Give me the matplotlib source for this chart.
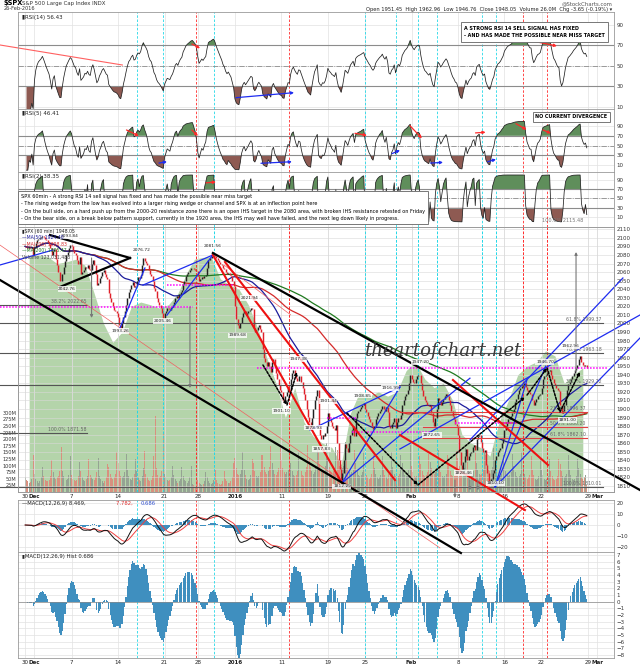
import numpy as np
import pandas as pd
import matplotlib
matplotlib.use("Agg")
import matplotlib.pyplot as plt

# hourly closes of $SPX, one row per trading day (30 Nov 2015 - 26 Feb 2016)
hourly_close = [
    [2090, 2089, 2088, 2089, 2088, 2089, 2080.4],   # Nov 30
    [2089, 2094, 2097, 2099, 2100, 2101, 2102.6],   # Dec 1
    [2101, 2099, 2097, 2095, 2093, 2088, 2079.5],
    [2085, 2087, 2075, 2068, 2060, 2050, 2049.6],
    [2058, 2066, 2073, 2080, 2084, 2088, 2091.7],
    [2090, 2086, 2082, 2080, 2074, 2070, 2077.1],   # Dec 7
    [2058, 2060, 2062, 2066, 2065, 2068, 2063.6],
    [2062, 2070, 2074, 2068, 2058, 2045, 2047.6],
    [2053, 2056, 2060, 2062, 2058, 2054, 2052.2],
    [2035, 2030, 2025, 2020, 2016, 2015, 2012.4],
    [2008, 1998, 1995, 2000, 2008, 2014, 2021.9],   # Dec 14
    [2030, 2037, 2040, 2045, 2048, 2042, 2043.4],
    [2050, 2054, 2053, 2057, 2068, 2076, 2073.1],
    [2071, 2068, 2062, 2058, 2056, 2050, 2041.9],
    [2038, 2030, 2025, 2022, 2018, 2012, 2005.6],
    [2012, 2015, 2018, 2017, 2016, 2019, 2021.2],   # Dec 21
    [2025, 2030, 2032, 2030, 2034, 2037, 2039.0],
    [2046, 2050, 2055, 2058, 2060, 2062, 2064.3],
    [2065, 2064, 2063, 2061.0],
    [2055, 2050, 2052, 2054, 2053, 2055, 2056.5],   # Dec 28
    [2065, 2074, 2076, 2077, 2079, 2080, 2078.4],
    [2076, 2074, 2072, 2070, 2068, 2065, 2063.4],
    [2060, 2058, 2059, 2057, 2055, 2050, 2043.9],
    [2020, 2005, 1998, 1995, 2000, 2008, 2012.7],   # Jan 4
    [2015, 2010, 2012, 2014, 2016, 2018, 2016.7],
    [1995, 1990, 1992, 1996, 1998, 1994, 1990.3],
    [1970, 1960, 1955, 1950, 1955, 1950, 1943.1],
    [1955, 1958, 1948, 1942, 1935, 1928, 1922.0],
    [1920, 1910, 1908, 1915, 1920, 1925, 1923.7],   # Jan 11
    [1935, 1942, 1945, 1940, 1936, 1933, 1938.7],
    [1938, 1932, 1925, 1918, 1910, 1900, 1890.3],
    [1885, 1880, 1890, 1900, 1910, 1915, 1921.8],
    [1880, 1870, 1865, 1870, 1868, 1872, 1880.3],
    [1895, 1888, 1885, 1880, 1878, 1875, 1881.3],   # Jan 19
    [1860, 1840, 1830, 1815, 1825, 1840, 1859.3],
    [1855, 1850, 1860, 1870, 1875, 1880, 1869.0],
    [1890, 1895, 1898, 1900, 1902, 1905, 1906.9],
    [1900, 1896, 1892, 1888, 1885, 1880, 1877.1],   # Jan 25
    [1880, 1888, 1892, 1895, 1898, 1900, 1903.6],
    [1900, 1898, 1902, 1896, 1880, 1878, 1883.0],
    [1885, 1890, 1878, 1885, 1890, 1888, 1893.4],
    [1905, 1910, 1915, 1918, 1922, 1930, 1940.2],
    [1935, 1932, 1930, 1935, 1938, 1940, 1939.4],   # Feb 1
    [1930, 1922, 1915, 1910, 1908, 1905, 1903.0],
    [1905, 1895, 1885, 1880, 1890, 1900, 1912.5],
    [1910, 1905, 1908, 1912, 1915, 1918, 1915.5],
    [1910, 1905, 1898, 1892, 1888, 1882, 1880.1],
    [1870, 1850, 1835, 1830, 1838, 1845, 1853.4],   # Feb 8
    [1840, 1845, 1848, 1850, 1856, 1858, 1852.2],
    [1865, 1868, 1870, 1862, 1855, 1850, 1851.9],
    [1835, 1825, 1815, 1812, 1818, 1825, 1829.1],
    [1840, 1845, 1850, 1852, 1855, 1860, 1864.8],
    [1875, 1880, 1885, 1888, 1890, 1892, 1895.6],   # Feb 16
    [1900, 1908, 1912, 1918, 1922, 1924, 1926.8],
    [1928, 1930, 1926, 1922, 1920, 1918, 1917.8],
    [1910, 1905, 1908, 1912, 1915, 1916, 1917.8],
    [1925, 1935, 1938, 1940, 1942, 1944, 1945.5],   # Feb 22
    [1940, 1935, 1930, 1928, 1925, 1922, 1921.3],
    [1905, 1895, 1898, 1905, 1915, 1922, 1929.8],
    [1932, 1935, 1938, 1942, 1945, 1948, 1951.7],
    [1958, 1962, 1955, 1952, 1950, 1951, 1948.05],
]

# hourly volume in millions, same layout
hourly_vol = [
    [55, 45, 40, 35, 38, 50, 140], [70, 50, 40, 35, 40, 55, 95], [60, 45, 40, 40, 45, 60, 120],
    [75, 55, 50, 55, 60, 80, 170], [80, 60, 50, 45, 50, 65, 135], [65, 50, 45, 40, 45, 60, 115],
    [80, 55, 45, 40, 50, 60, 125], [65, 55, 50, 45, 55, 75, 130], [60, 50, 40, 35, 40, 55, 105],
    [95, 70, 55, 50, 55, 70, 150], [110, 80, 60, 55, 60, 75, 145], [85, 60, 50, 45, 55, 70, 125],
    [80, 55, 45, 40, 60, 90, 155], [70, 55, 45, 40, 45, 60, 135], [290, 90, 65, 55, 60, 80, 225],
    [70, 55, 45, 40, 45, 55, 100], [65, 50, 40, 35, 40, 50, 95], [60, 45, 40, 35, 40, 55, 100],
    [30, 25, 20, 45], [45, 35, 30, 28, 30, 40, 75], [55, 40, 35, 30, 35, 45, 85],
    [45, 35, 30, 28, 30, 40, 80], [50, 40, 35, 35, 40, 55, 110], [130, 90, 70, 65, 70, 85, 150],
    [85, 65, 50, 45, 50, 65, 125], [110, 80, 60, 55, 60, 75, 140], [140, 95, 75, 70, 80, 95, 175],
    [110, 85, 70, 65, 75, 90, 165], [120, 90, 75, 70, 75, 85, 160], [110, 80, 65, 60, 65, 80, 150],
    [100, 80, 65, 60, 75, 95, 180], [130, 95, 80, 70, 75, 90, 165], [150, 105, 85, 80, 85, 100, 185],
    [130, 95, 80, 75, 80, 90, 170], [160, 120, 100, 95, 90, 100, 190], [120, 90, 75, 70, 75, 85, 160],
    [110, 80, 65, 60, 65, 75, 150], [85, 65, 55, 50, 55, 70, 140], [90, 70, 55, 50, 55, 65, 135],
    [85, 65, 55, 50, 70, 85, 150], [95, 70, 60, 55, 60, 70, 140], [110, 80, 65, 60, 65, 85, 180],
    [100, 75, 60, 55, 60, 70, 135], [105, 80, 65, 60, 65, 75, 145], [115, 90, 75, 70, 75, 90, 160],
    [100, 75, 60, 55, 60, 70, 140], [105, 80, 65, 60, 65, 80, 155], [130, 100, 80, 75, 80, 90, 165],
    [115, 85, 70, 65, 70, 80, 150], [110, 85, 70, 65, 70, 85, 150], [140, 105, 85, 80, 85, 95, 165],
    [100, 75, 60, 55, 60, 70, 140], [105, 80, 65, 60, 65, 75, 145], [100, 75, 60, 55, 60, 70, 150],
    [90, 70, 55, 50, 55, 65, 135], [85, 65, 50, 45, 50, 60, 130], [85, 65, 50, 45, 50, 60, 125],
    [80, 60, 50, 45, 50, 60, 125], [105, 80, 60, 55, 60, 70, 140], [85, 65, 50, 45, 50, 60, 125],
    [90, 70, 55, 50, 55, 65, 26],
]

# the light green area behind the price, one level per day
area_level = [2078, 2080, 2078, 2070, 2072, 2075, 2068, 2035, 2000, 1978, 1990, 2020, 2025, 2022,
              2018, 2022, 2035, 2060, 2075, 2077, 2078, 2052, 2045, 2040, 2022, 1995, 1960, 1930,
              1890, 1925, 1885, 1868, 1860, 1855, 1835, 1895, 1920, 1915, 1920, 1915, 1920, 1945,
              1955, 1935, 1925, 1930, 1910, 1870, 1860, 1855, 1845, 1885, 1910, 1940, 1950, 1955,
              1968, 1962, 1930, 1940, 1948]

# x axis labels (bar index where each label sits)
date_labels = ["30", "Dec", "7", "14", "21", "28", "2016", "11", "19", "25", "Feb", "8", "16", "22", "29", "Mar"]
date_bars = [0, 7, 35, 70, 105, 130, 158, 193, 228, 256, 291, 326, 361, 389, 424, 431]
bold_labels = ["Dec", "2016", "Feb", "Mar"]

# vertical marker lines (bar index)
cyan_marks = [84, 104, 142, 256, 279, 296, 310, 344, 355]
red_marks = [129, 199, 375, 393]

# trend lines on the price panel: (bar0, price0, bar1, price1)
black_lines = [(-19.0, 2050.8, 328.2, 1731.7), (141.4, 2082.3, 463.1, 1805.3),
               (18.7, 2103.3, 79.0, 2076.5), (26.2, 2042.6, 79.0, 2076.5)]
red_lines = [(141.4, 2080.0, 238.6, 1813.5), (150.5, 2071.8, 278.5, 1817.0),
             (282.3, 1869.6, 376.4, 1781.9), (322.2, 1933.9, 393.8, 1834.6)]
red_thin = [(-19.0, 2091.6, 312.4, 1737.6), (150.0, 2068.0, 200.0, 2010.0)]
blue_lines = [(-19.0, 2068.3, 20.9, 2085.8), (71.4, 1994.7, 90.2, 2064.8), (88.7, 2044.8, 141.4, 2080.0),
              (106.8, 2009.7, 141.4, 2080.0), (238.6, 1813.5, 282.3, 1925.7), (238.6, 1813.5, 335.0, 1936.0),
              (214.5, 1875.5, 282.3, 1925.7), (353.9, 1808.9, 377.9, 1933.9), (335.0, 1863.8, 450.2, 2053.1),
              (282.3, 1853.3, 463.1, 2009.9), (353.9, 1808.9, 463.1, 1983.0), (353.9, 1808.9, 392.0, 1950.0)]
magenta_lines = [(-19.0, 126.4, 2019.6), (106.8, 156.5, 2044.9), (174.6, 438.2, 1947.6),
                 (227.5, 250.0, 1889.1), (246.1, 306.4, 1872.9), (323.7, 370.4, 1883.3)]
# fib levels: (bar0, bar1, price, label, colour key)
fib_lines = [(-19.0, 46.5, 2021.5, "38.2% 2022.65", "k"), (-19.0, 435.0, 2000.2, "61.8% 1999.37", "k"),
             (-19.0, 435.0, 1965.1, "78.6% 1963.18", "k"), (-19.0, 435.0, 1928.1, "38.2% 1929.22", "k"),
             (-19.0, 46.5, 1872.3, "100.0% 1871.58", "k"), (-19.0, 435.0, 1809.2, "100.0% 1810.01", "k"),
             (282.0, 423.0, 1896.9, "23.6% 1896.37", "r"), (300.0, 423.0, 1879.3, "50.0% 1880.20", "r"),
             (300.0, 423.0, 1865.8, "61.8% 1862.10", "r")]
target_arrows = [(50.0, 2076.5, 50.0, 2006.4), (124.1, 2019.2, 124.1, 1924.5), (414.9, 1943.3, 414.9, 2083.5),
                 (323.7, 1817.0, 323.7, 1796.0), (335.0, 1817.0, 335.0, 1805.0), (341.0, 1817.0, 341.0, 1805.0)]
dotted_arrows = [(242.4, 1895.3, 295.8, 1811.2), (295.8, 1811.2, 376.4, 1914.0), (378.0, 1916.3, 393.1, 1947.9),
                 (393.1, 1947.9, 402.8, 1896.5), (402.8, 1896.5, 417.9, 1943.3), (179.1, 1951.4, 197.2, 1904.7),
                 (197.2, 1904.7, 204.7, 1943.3)]
price_notes = [("2093.84", 33.7, 2099.8), ("2042.76", 31.5, 2037.9), ("2076.72", 88.0, 2083.5),
               ("2081.56", 141.4, 2088.1), ("1993.26", 71.4, 1988.8), ("2005.46", 103.8, 2000.5),
               ("1989.68", 159.6, 1984.1), ("2021.94", 169.3, 2027.4), ("1947.38", 205.5, 1956.1),
               ("1901.10", 193.4, 1895.3), ("1878.93", 216.8, 1875.5), ("1857.83", 223.5, 1850.9),
               ("1812.29", 238.6, 1807.6), ("1901.44", 228.1, 1907.0), ("1908.85", 254.4, 1912.9),
               ("1916.99", 274.8, 1922.2), ("1947.20", 297.4, 1952.6), ("1872.65", 306.4, 1867.3),
               ("1828.46", 329.8, 1822.9), ("1810.10", 353.9, 1811.0), ("1891.00", 408.8, 1884.8),
               ("1946.70", 391.5, 1952.6), ("1962.96", 410.5, 1971.0)]

# arrows drawn on the RSI panels: (bar0, value0, bar1, value1)
rsi14_red = [(125.6, 71.4, 131.7, 67.2), (375.7, 76.0, 400.5, 69.4)]
rsi14_blue = [(158.8, 18.8, 202.5, 23.7)]
rsi14_trend = [(-19.0, 70.4, 73.2, 50.8)]
rsi5_red = [(76.3, 81.9, 85.6, 69.7), (125.5, 81.9, 130.1, 69.7), (248.4, 75.1, 257.4, 71.0),
            (289.8, 90.6, 298.8, 64.9), (339.2, 75.9, 346.8, 77.3), (369.7, 94.7, 377.6, 82.5),
            (390.0, 81.9, 396.0, 75.1)]
rsi5_blue = [(100.8, 14.5, 106.8, 17.2), (177.6, 14.1, 200.9, 17.2), (276.3, 33.8, 282.3, 40.6),
             (305.3, 14.5, 314.7, 15.9), (348.4, 17.2, 354.6, 22.1)]
rsi2_red = [(136.2, 83.2, 143.7, 85.2)]

# ---------------------------------------------------------------
close = np.array([v for row in hourly_close for v in row], dtype=float)
vol = np.array([v for row in hourly_vol for v in row], dtype=float)
n = len(close)
x = np.arange(n)
lens = np.array([len(r) for r in hourly_close])
day_start = np.concatenate([[0], np.cumsum(lens)[:-1]])
day_mid = day_start + (lens - 1) / 2
opens = np.concatenate([[close[0]], close[:-1]])
down = close < opens

s = pd.Series(close)


def rsi(series, period):
    d = series.diff()
    up = d.clip(lower=0).ewm(alpha=1 / period, adjust=False).mean()
    dn = (-d.clip(upper=0)).ewm(alpha=1 / period, adjust=False).mean()
    return (100 - 100 / (1 + up / dn)).values


rsi14 = rsi(s, 14)
rsi5 = rsi(s, 5)
rsi2 = rsi(s, 2)
macd = (s.ewm(span=12, adjust=False).mean() - s.ewm(span=26, adjust=False).mean()).values
signal = pd.Series(macd).ewm(span=9, adjust=False).mean().values
hist = macd - signal
ma50 = s.rolling(50, min_periods=1).mean().values
ma100 = s.rolling(100, min_periods=1).mean().values
ma200 = s.rolling(200, min_periods=1).mean().values

W, H = 640, 668
XMIN, XMAX = -5.4, 443.5
CYAN = "#22d8e8"
RED = "#ff2a2a"
GREEN_FILL = "#5f8e5b"
BROWN_FILL = "#8e5a52"
BLUE = "#1e2cf0"
NARROW = dict(family="DejaVu Sans", stretch="condensed")

fig = plt.figure(figsize=(W / 100, H / 100), dpi=100)


def panel(top, bottom, z=1):
    return fig.add_axes([18 / W, 1 - bottom / H, 596 / W, (bottom - top) / H], zorder=z)


def style(ax, ticks, lo, hi):
    ax.set_xlim(XMIN, XMAX)
    ax.set_ylim(lo, hi)
    ax.yaxis.tick_right()
    ax.set_yticks(ticks)
    ax.tick_params(axis="y", length=0, labelsize=4, pad=2, colors="#333333")
    ax.set_xticks(date_bars)
    ax.tick_params(axis="x", length=0, labelbottom=False)
    ax.grid(True, color="#e2e2e2", lw=0.5)
    ax.set_axisbelow(True)
    for sp in ax.spines.values():
        sp.set_color("#9a9a9a")
        sp.set_linewidth(0.6)
    for b in cyan_marks:
        ax.axvline(b, color=CYAN, lw=0.6, ls=(0, (3, 2)), zorder=1)
    for b in red_marks:
        ax.axvline(b, color=RED, lw=0.6, ls=(0, (3, 2)), zorder=1)


def date_axis(ax):
    ax.tick_params(axis="x", labelbottom=True, labelsize=4, pad=1.5, colors="#222222")
    ax.set_xticklabels(date_labels)
    for t in ax.get_xticklabels():
        if t.get_text() in bold_labels:
            t.set_fontweight("bold")


def arrow(ax, seg, color, lw=0.9, ls="-"):
    ax.annotate("", xy=(seg[2], seg[3]), xytext=(seg[0], seg[1]), annotation_clip=False,
                arrowprops=dict(arrowstyle="-|>", color=color, lw=lw, ls=ls,
                                mutation_scale=4, shrinkA=0, shrinkB=0))


def rsi_panel(ax, vals, lo, hi, name):
    style(ax, [10, 30, 50, 70, 90], lo, hi)
    ax.axhline(70, color="#8c8c8c", lw=0.8)
    ax.axhline(30, color="#8c8c8c", lw=0.8)
    ax.axhline(50, color="#8c8c8c", lw=0.6, ls="-.")
    ax.fill_between(x, vals, 70, where=vals > 70, interpolate=True, color=GREEN_FILL, lw=0)
    ax.fill_between(x, vals, 30, where=vals < 30, interpolate=True, color=BROWN_FILL, lw=0)
    ax.plot(x, vals, color="#202020", lw=0.55)
    ax.text(0.006, 0.965, name, transform=ax.transAxes, fontsize=4, va="top", color="#222222")


# ---------------- RSI panels ----------------
ax1 = panel(12, 109)
rsi_panel(ax1, rsi14, 7.7, 102.7, "\u25aeRSI(14) 56.43")
for seg in rsi14_trend:
    ax1.plot([seg[0], seg[2]], [seg[1], seg[3]], color="#ff6060", lw=0.8, clip_on=False)
for seg in rsi14_red:
    arrow(ax1, seg, RED)
for seg in rsi14_blue:
    arrow(ax1, seg, BLUE)
ax1.text(0.748, 0.86, "A STRONG RSI 14 SELL SIGNAL HAS FIXED\n- AND HAS MADE THE POSSIBLE NEAR MISS TARGET",
         transform=ax1.transAxes, fontsize=3.9, fontweight="bold", va="top", ha="left", linespacing=1.7,
         bbox=dict(boxstyle="square,pad=0.6", fc="white", ec="#777777", lw=0.7), **NARROW)

ax2 = panel(109, 172)
rsi_panel(ax2, rsi5, -3.7, 124.6, "\u25aeRSI(5) 46.41")
for seg in rsi5_red:
    arrow(ax2, seg, RED)
for seg in rsi5_blue:
    arrow(ax2, seg, BLUE)
ax2.text(0.868, 0.875, "NO CURRENT DIVERGENCE", transform=ax2.transAxes, fontsize=3.9, fontweight="bold",
         va="center", bbox=dict(boxstyle="square,pad=0.5", fc="white", ec="#777777", lw=0.7), **NARROW)

ax3 = panel(172, 227)
rsi_panel(ax3, rsi2, -11, 106.4, "\u25aeRSI(2) 38.35")
for seg in rsi2_red:
    arrow(ax3, seg, RED)
ax3.text(0.948, 0.08, "100.0% 2115.48", transform=ax3.transAxes, fontsize=3.6, color="#777777",
         ha="right", va="bottom")

note = ("SPX 60min - A strong RSI 14 sell signal has fixed and has made the possible near miss target\n"
        "- The rising wedge from the low has evolved into a larger rising wedge or channel and SPX is at an inflection point here\n"
        "- On the bull side, on a hard push up from the 2000-20 resistance zone there is an open IHS target in the 2080 area, "
        "with broken IHS resistance retested on Friday\n"
        "- On the bear side, on a break below pattern support, currently in the 1920 area, the IHS may well have failed, "
        "and the next leg down likely in progress.")
fig.text(21 / W, 1 - 194 / H, note, fontsize=4.0, va="top", ha="left", linespacing=1.6, zorder=20,
         bbox=dict(boxstyle="square,pad=0.55", fc="white", ec="#777777", lw=0.7), **NARROW)

# ---------------- price panel ----------------
PLO, PHI = 1803, 2112.7
ax_bg = panel(227, 492, z=1)
style(ax_bg, [], PLO, PHI)
ax_bg.fill_between(day_mid, PLO, area_level, color="#b4d4aa", lw=0, zorder=0)

ax_vol = panel(227, 492, z=2)
ax_vol.patch.set_visible(False)
ax_vol.set_xlim(XMIN, XMAX)
ax_vol.set_ylim(0, 1005)
ax_vol.bar(x[down], vol[down], width=0.75, color="#d8907f", lw=0)
ax_vol.bar(x[~down], vol[~down], width=0.75, color="#95a393", lw=0)
ax_vol.set_yticks(np.arange(25, 301, 25))
ax_vol.set_yticklabels([f"{v}M" for v in range(25, 301, 25)])
ax_vol.tick_params(axis="y", length=0, labelsize=3.6, pad=1, colors="#333333")
ax_vol.set_xticks([])
for sp in ax_vol.spines.values():
    sp.set_visible(False)

ax = panel(227, 492, z=3)
ax.patch.set_visible(False)
style(ax, np.arange(1810, 2111, 10), PLO, PHI)
ax.grid(True, color="#d8d8d8", lw=0.4)
date_axis(ax)

ax.plot(x, ma200, color="#1f7a1f", lw=0.9)
ax.plot(x, ma100, color="#d42a2a", lw=0.9)
ax.plot(x, ma50, color="#1c1c9c", lw=0.9)
ax.vlines(x[down], close[down], opens[down], color="#e0202a", lw=1.05)
ax.vlines(x[~down], opens[~down], close[~down], color="#202020", lw=1.05)

for b0, b1, p, lab, ck in fib_lines:
    c = "#555555" if ck == "k" else "#e04040"
    ax.plot([b0, b1], [p, p], color=c, lw=0.8, clip_on=False)
    tx = b1 - 1 if b1 > 100 else b1
    ax.text(tx, p + 1.2, lab, fontsize=3.3, color="#666666", ha="right", va="bottom")
for b0, b1, p in magenta_lines:
    ax.plot([b0, b1], [p, p], color="#ff00ff", lw=1.1, ls=(0, (1, 1)), clip_on=False)
for seg in red_thin:
    ax.plot([seg[0], seg[2]], [seg[1], seg[3]], color="#f06060", lw=0.5, clip_on=False)
for seg in blue_lines:
    ax.plot([seg[0], seg[2]], [seg[1], seg[3]], color=BLUE, lw=0.9, clip_on=False)
for seg in red_lines:
    ax.plot([seg[0], seg[2]], [seg[1], seg[3]], color="#ee1111", lw=1.5, clip_on=False)
for seg in black_lines:
    ax.plot([seg[0], seg[2]], [seg[1], seg[3]], color="black", lw=1.6, clip_on=False)
for seg in target_arrows:
    arrow(ax, seg, "#777777", lw=0.8)
for seg in dotted_arrows:
    arrow(ax, seg, "black", lw=1.1, ls=(0, (1.5, 1)))
for lab, b, p in price_notes:
    ax.text(b, p, lab, fontsize=3.2, ha="center", va="bottom", color="#222222",
            bbox=dict(boxstyle="square,pad=0.12", fc="white", ec="none", alpha=0.8))

ax.text(314.7, 1968, "theartofchart.net", fontsize=13, style="italic", family="DejaVu Serif",
        color="#3a3a3a", ha="center", va="center", zorder=10)
legend_rows = [("\u25aeSPX (60 min) 1948.05", "#222222"), ("\u2014MA(50) 1924.40", "#1c1c9c"),
               ("\u2014MA(100) 1898.83", "#d42a2a"), ("\u2014MA(200) 1895.47", "#1f7a1f"),
               ("Volume 123,031,488", "#444444")]
for i, (t, c) in enumerate(legend_rows):
    ax.text(0.006, 0.993 - i * 0.024, t, transform=ax.transAxes, fontsize=3.3, color=c, va="top")

# ---------------- MACD ----------------
axm = panel(500, 552)
style(axm, [-20, -10, 0, 10, 20], -24.5, 22.7)
axm.bar(x, hist, width=0.9, color="#3f8fbf", lw=0)
axm.plot(x, signal, color="#f04040", lw=0.7)
axm.plot(x, macd, color="#111111", lw=0.7)
axm.text(0.006, 0.98, "\u2014MACD(12,26,9) 8.469, ", transform=axm.transAxes, fontsize=3.8, va="top",
         color="#222222")
axm.text(0.165, 0.98, "7.782, ", transform=axm.transAxes, fontsize=3.8, va="top", color="#e03030")
axm.text(0.205, 0.98, "0.686", transform=axm.transAxes, fontsize=3.8, va="top", color="#3050d0")

axh = panel(552, 658)
style(axh, np.arange(-8, 8), -8.44, 7.45)
axh.bar(x, hist, width=0.95, color="#3f8fbf", lw=0)
axh.axhline(0, color="#8a8a8a", lw=0.5)
date_axis(axh)
axh.text(0.006, 0.985, "\u25aeMACD(12,26,9) Hist 0.686", transform=axh.transAxes, fontsize=3.8, va="top",
         color="#222222")

# ---------------- header ----------------
fig.text(4 / W, 1 - 3.5 / H, "$SPX", fontsize=4.8, fontweight="bold", va="center")
fig.text(22 / W, 1 - 3.5 / H, "S&P 500 Large Cap Index INDX", fontsize=3.9, va="center", color="#333333")
fig.text(4 / W, 1 - 9 / H, "26-Feb-2016", fontsize=3.6, va="center", color="#333333")
fig.text(612 / W, 1 - 3.5 / H, "@StockCharts.com", fontsize=3.9, va="center", ha="right", color="#555555")
fig.text(612 / W, 1 - 9 / H,
         "Open 1951.45  High 1962.96  Low 1946.76  Close 1948.05  Volume 26.0M  Chg -3.65 (-0.19%) \u25be",
         fontsize=3.7, va="center", ha="right", color="#222222")

fig.savefig("out.png", dpi=100, facecolor="white")
